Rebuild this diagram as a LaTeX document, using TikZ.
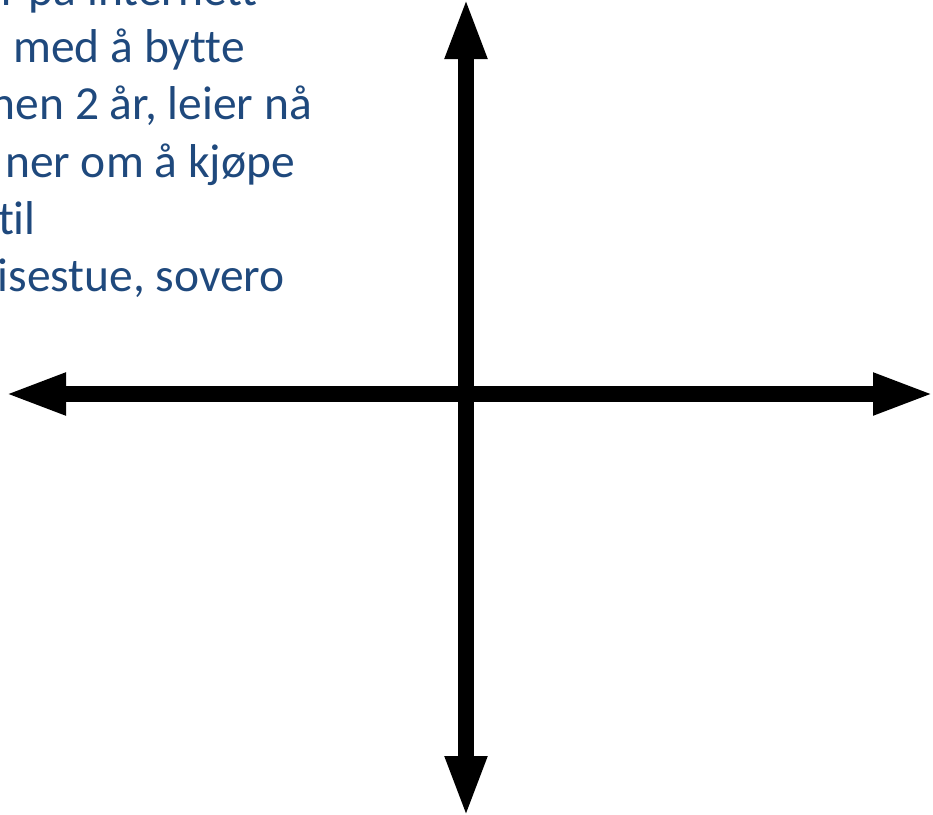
\documentclass[tikz,border=0pt]{standalone}
\usepackage{fontspec}
\setmainfont{Carlito}[Ligatures={NoCommon}]
\usetikzlibrary{arrows.meta}
\definecolor{textblue}{RGB}{31,73,125}

\begin{document}
\begin{tikzpicture}[x=0.75pt,y=-0.75pt,
  axisarrow/.style={line width=12.4pt,{Triangle[length=46.5pt,width=28.5pt]}-{Triangle[length=46.5pt,width=28.5pt]}},
  textline/.style={anchor=base east,inner sep=0pt,text=textblue,font=\fontsize{35.6}{43}\selectfont}]
  \useasboundingbox (0,0) rectangle (933,815);
  \clip (0,0) rectangle (933,815);
  \node [textline] (l1) at (258,5) {r på internett};
  \node [textline] (l2) at (245,62) {med å bytte};
  \node [textline] (l3) at (312,119.5) {nen 2 år, leier nå};
  \node [textline] (l4) at (295,177) {ner om å kjøpe};
  \node [textline] (l5) at (36,234.5) {til};
  \node [textline] (l6) at (285,291.5) {isestue, sovero};
  \coordinate (top) at (466,-3);
  \coordinate (bottom) at (466,818);
  \coordinate (left) at (4,394);
  \coordinate (right) at (935,394);
  \draw [axisarrow] (top) -- (bottom);
  \draw [axisarrow] (left) -- (right);
\end{tikzpicture}
\end{document}
